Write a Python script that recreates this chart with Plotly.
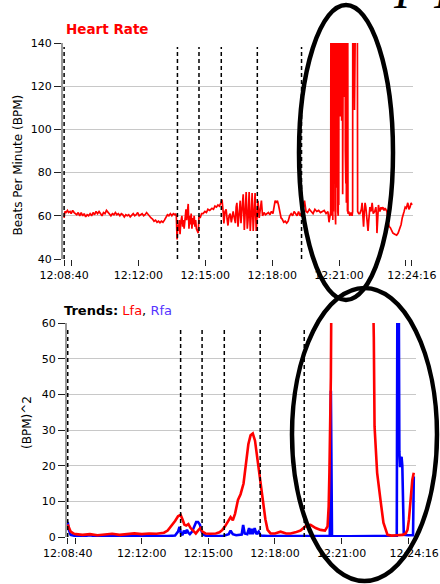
import pandas as pd
import plotly.graph_objects as go

BASE = "2024-01-01 "
START = "12:08:40"
END = "12:24:16"

# Heart rate: (seconds after 12:08:40, beats per minute)
HR_POINTS = [
    (0, 59), (2, 62), (5, 61.5), (9, 62.5), (12, 61.5), (16, 62), (19, 61), (23, 62.5), (27, 61.5), (30, 61),
    (34, 60.5), (38, 61.5), (42, 60), (46, 61.5), (50, 60), (54, 61), (58, 59.5), (62, 60.5), (66, 60), (70, 61),
    (74, 60), (78, 61.5), (82, 60.5), (86, 62), (90, 61), (94, 62), (98, 61), (102, 60), (106, 61.5), (110, 61),
    (114, 62.5), (118, 61.5), (122, 61), (126, 60), (130, 61), (134, 60.5), (138, 61.5), (142, 60.5), (146, 61),
    (150, 60), (154, 61), (158, 60.5), (162, 59.5), (166, 60.5), (170, 60), (174, 60.5), (178, 59.5), (182, 60.5),
    (186, 61), (190, 60), (194, 60.5), (198, 61.5), (202, 60), (206, 60.5), (210, 61), (214, 60), (218, 60.5),
    (222, 61.5), (226, 60.5), (230, 59.5), (234, 59), (238, 58.5), (242, 57.5), (246, 58), (250, 57), (254, 57.5),
    (258, 56.8), (262, 57.5), (266, 57), (270, 58), (274, 59), (278, 60.5), (282, 60), (286, 61), (290, 60),
    (294, 61), (298, 60.5), (300, 61),
    (302, 60), (304, 49), (306, 56), (308, 53), (310, 58), (312, 51.5), (314, 57), (317, 60), (319, 55), (321, 58),
    (323, 54), (325, 60), (328, 63), (330, 58), (332, 62), (334, 65.5), (336, 54), (338, 60), (340, 56), (342, 61),
    (344, 54), (346, 59), (348, 56), (350, 60), (352, 55), (354, 58), (356, 54), (358, 53), (361, 52), (363, 60),
    (366, 59), (370, 61),
    (374, 61), (379, 62), (383, 61.5), (387, 63), (392, 62.5), (398, 63.5), (402, 63), (406, 64.5), (410, 64),
    (414, 65), (418, 64.5), (422, 66), (425, 67.5), (428, 62), (430, 56.5), (433, 62), (436, 63), (439, 58),
    (441, 55.5), (444, 60), (447, 61), (450, 57), (452, 59), (455, 62), (457, 60), (461, 56.6), (463, 64),
    (465, 66), (468, 55), (471, 60), (474, 67), (476, 56.6), (479, 63), (482, 70), (485, 53.4), (487, 60),
    (490, 71), (493, 54), (495, 58), (498, 71), (501, 53), (504, 62), (506, 70.5), (509, 53), (512, 64),
    (514, 70.5), (517, 53), (519, 60), (522, 67), (525, 59), (528, 63), (531, 67), (534, 60), (538, 61.5),
    (542, 60.5), (546, 61), (550, 61.5), (554, 60.5), (558, 62), (562, 61), (565, 64), (568, 67), (571, 66),
    (574, 67), (577, 65), (581, 62), (584, 59), (587, 58.5), (591, 57), (595, 57.5), (599, 56.6), (603, 57.5),
    (607, 60), (611, 61), (615, 60), (619, 62), (623, 61), (627, 60), (631, 62), (635, 60), (639, 61.5),
    (643, 63), (647, 67), (651, 62), (655, 61.5), (660, 63), (665, 62), (670, 61), (675, 63), (680, 62),
    (685, 62.5), (690, 61.5), (695, 62), (700, 62.5), (705, 61), (710, 62), (713, 57), (716, 61),
    (717.5, 62), (718.2, 180), (719, 62), (719.7, 180), (720.4, 60), (721.1, 180), (721.8, 64), (722.5, 180),
    (723.2, 58), (723.9, 180), (724.6, 62), (725.3, 180), (727, 80), (728.7, 180), (729.4, 63), (730.1, 180),
    (730.8, 56), (731.5, 180), (733.6, 73), (735.7, 180), (736.4, 62), (737.1, 180), (737.8, 60), (738.5, 180),
    (739.2, 65), (739.9, 180), (742.5, 106), (745, 180), (747, 104), (749, 180), (749.7, 70), (750.4, 180),
    (751.1, 85), (751.8, 180), (754, 115), (756.2, 180), (756.9, 90), (757.6, 180), (758.3, 75), (759, 180),
    (759.7, 66), (760.4, 180), (761.1, 80), (761.8, 180), (762.5, 62), (763.2, 180), (764, 61), (766, 62),
    (769, 60), (772, 61.5), (775, 60), (776.5, 62), (777, 180), (780, 180), (781.5, 109), (783.5, 180),
    (784.5, 150), (785.5, 180), (786.5, 140), (787.5, 180), (789, 180), (790, 62),
    (793, 61), (796, 61), (800, 63), (802, 66), (804, 60), (806, 55), (808, 62), (810, 66), (812, 64), (815, 59),
    (818, 53), (820, 58), (823, 64), (826, 62), (829, 66), (832, 61), (836, 62), (839, 64), (841, 60), (842, 52),
    (844, 58), (846, 65), (848, 63), (850, 62), (853, 64), (855, 63), (858, 64), (861, 62.5), (864, 63.5),
    (867, 62), (869, 62), (872, 57), (875, 55), (878, 54.5), (882, 53), (885, 52), (890, 51.5), (895, 51),
    (899, 52), (903, 54), (907, 56), (910, 59), (912, 61), (915, 62), (918, 64), (921, 63.5), (925, 66),
    (928, 63), (931, 64), (934, 66), (936, 65),
]

# Trends: (seconds after 12:08:40, (BPM)^2)
LFA_POINTS = [
    (0, 3.5), (3, 2.5), (8, 1.5), (15, 1), (22, 0.8), (40, 0.6), (60, 0.8), (80, 0.5), (100, 0.7), (120, 0.9),
    (140, 0.6), (160, 0.8), (180, 1), (200, 0.8), (220, 1), (240, 0.9), (260, 1.2), (270, 1.8), (280, 3),
    (290, 4.5), (298, 5.8), (305, 6.2), (310, 5), (315, 3.5), (320, 3.2), (326, 3.6), (332, 2.5), (340, 1.5),
    (346, 1), (352, 1.8), (358, 2.5), (364, 1.5), (372, 1), (385, 0.9), (400, 1), (410, 1.3), (418, 2),
    (425, 3), (432, 4.2), (440, 5.6), (446, 4.7), (452, 6.5), (460, 10.4), (467, 12), (475, 15), (481, 20),
    (488, 26), (494, 28.5), (500, 29), (506, 27), (512, 22), (518, 17), (524, 12), (529, 8.5), (534, 5),
    (540, 2), (548, 1), (560, 1), (575, 1.5), (590, 1), (602, 1), (615, 1.3), (629, 1.8), (637, 2.5),
    (645, 3.3), (656, 3.4), (670, 2.5), (683, 2), (695, 1.8), (702, 3), (705, 8.5), (707, 18), (709, 27),
    (711, 45), (713, 80), (760, 80), (826, 62), (827, 56), (829, 31), (831, 27), (836, 18), (845, 10.4),
    (853, 4), (864, 0.6), (875, 0.4), (890, 0.5), (905, 0.6), (913, 1), (918, 2), (922, 5), (926, 11),
    (931, 16), (935, 18),
]
RFA_POINTS = [
    (0, 4.2), (3, 2), (8, 0.6), (20, 0.3), (40, 0.2), (60, 0.5), (70, 0.3), (90, 0.2), (110, 0.4), (130, 0.2),
    (150, 0.3), (170, 0.2), (190, 0.4), (210, 0.2), (230, 0.3), (250, 0.2), (270, 0.3), (290, 0.4), (298, 1.5),
    (302, 2.8), (306, 1), (310, 0.5), (314, 1.8), (318, 1), (322, 2), (326, 1.2), (330, 0.8), (336, 1.5),
    (342, 3), (347, 4.2), (352, 4.2), (357, 3.5), (362, 1.5), (368, 0.6), (375, 0.3), (400, 0.2), (420, 0.3),
    (435, 0.8), (440, 1.8), (446, 0.8), (455, 0.5), (470, 0.7), (474, 3.4), (478, 1), (485, 0.8), (490, 2.5),
    (493, 0.8), (497, 2.3), (500, 0.8), (505, 2.5), (510, 0.8), (516, 1.5), (521, 0.4), (540, 0.3), (600, 0.2),
    (660, 0.3), (708, 0.3), (711, 41), (714, 0.3), (760, 0.2), (830, 0.3), (889, 0.3), (891, 80), (894, 80),
    (896, 24), (898, 19.6), (900, 22), (902, 22.5), (904, 20), (906, 2), (908, 0.6), (920, 0.5), (933, 0.5),
    (935, 17),
]

MARKERS = ["12:08:40", "12:13:45", "12:14:43", "12:15:43", "12:17:20", "12:19:19"]
TICK_TIMES = ["12:08:40", "12:09:00", "12:12:00", "12:15:00", "12:18:00", "12:21:00", "12:24:00", "12:24:16"]
TICK_TEXT = ["12:08:40", "", "12:12:00", "12:15:00", "12:18:00", "12:21:00", "", "12:24:16"]
HR_TICKS = [40, 60, 80, 100, 120, 140]
TR_TICKS = [0, 10, 20, 30, 40, 50, 60]

W, H = 440, 584
base = pd.Timestamp(BASE + START)


def to_time(points):
    return [base + pd.to_timedelta(p[0], unit="s") for p in points]


def px(xp):
    return xp / W


def py(yp):
    return (H - yp) / H


fig = go.Figure()
fig.add_trace(go.Scatter(x=to_time(HR_POINTS), y=[p[1] for p in HR_POINTS], mode="lines",
                         line=dict(color="#ff0000", width=1.7), xaxis="x", yaxis="y", showlegend=False))
fig.add_trace(go.Scatter(x=to_time(RFA_POINTS), y=[p[1] for p in RFA_POINTS], mode="lines",
                         line=dict(color="#0000ff", width=2.6), xaxis="x2", yaxis="y2", showlegend=False))
fig.add_trace(go.Scatter(x=to_time(LFA_POINTS), y=[p[1] for p in LFA_POINTS], mode="lines",
                         line=dict(color="#ff0000", width=2.6), xaxis="x2", yaxis="y2", showlegend=False))

tickvals = [BASE + t for t in TICK_TIMES]
font_tick = dict(family="DejaVu Sans", size=11, color="#000")

xcommon = dict(type="date", tickvals=tickvals, ticktext=TICK_TEXT, ticks="outside", ticklen=6,
               tickcolor="#222", tickwidth=1, showgrid=False, showline=False, zeroline=False,
               tickfont=font_tick, automargin=False)
ycommon = dict(ticks="outside", ticklen=7, tickcolor="#222", tickwidth=1, showgrid=True,
               gridcolor="#c8c8c8", gridwidth=1, showline=True, linecolor="#9a9a9a", linewidth=2,
               zeroline=False, tickfont=font_tick, automargin=False)

end_ts = pd.Timestamp(BASE + END)
fig.update_layout(
    width=W, height=H, margin=dict(l=0, r=0, t=0, b=0),
    paper_bgcolor="white", plot_bgcolor="white",
    xaxis=dict(domain=[px(63), px(413)], anchor="y",
               range=[base - pd.Timedelta(seconds=3), end_ts + pd.Timedelta(seconds=3)], **xcommon),
    yaxis=dict(domain=[py(259), py(43)], anchor="x", range=[40, 140], tickvals=HR_TICKS, **ycommon),
    xaxis2=dict(domain=[px(67), px(416)], anchor="y2",
                range=[base - pd.Timedelta(seconds=2), end_ts + pd.Timedelta(seconds=5)], **xcommon),
    yaxis2=dict(domain=[py(537), py(323)], anchor="x2", range=[0, 60], tickvals=TR_TICKS, **ycommon),
)

shapes = []
for m in MARKERS:
    t = BASE + m
    shapes.append(dict(type="line", xref="x", yref="paper", x0=t, x1=t, y0=py(259), y1=py(47),
                       line=dict(color="#000", width=1.5, dash="4px,3px")))
    shapes.append(dict(type="line", xref="x2", yref="paper", x0=t, x1=t, y0=py(537), y1=py(327),
                       line=dict(color="#000", width=1.5, dash="4px,3px")))
# hand-drawn emphasis ellipses
shapes.append(dict(type="circle", xref="paper", yref="paper", x0=px(299), x1=px(393), y0=py(300), y1=py(5),
                   line=dict(color="#000", width=4.5)))
shapes.append(dict(type="circle", xref="paper", yref="paper", x0=px(292), x1=px(437), y0=py(581), y1=py(288),
                   line=dict(color="#000", width=4.5)))
fig.update_layout(shapes=shapes)

annotations = [
    dict(text="<b>Heart Rate</b>", x=px(64), y=py(29), xref="paper", yref="paper", xanchor="left",
         yanchor="middle", showarrow=False, font=dict(family="DejaVu Sans", size=13.5, color="#ff0000")),
    dict(text="<b>Trends:</b> <span style='color:#ff0000'>Lfa</span>, <span style='color:#5533ff'>Rfa</span>",
         x=px(62), y=py(310), xref="paper", yref="paper", xanchor="left", yanchor="middle", showarrow=False,
         font=dict(family="DejaVu Sans", size=13, color="#000")),
    dict(text="Beats Per Minute (BPM)", x=px(17.5), y=py(165), xref="paper", yref="paper", textangle=-90,
         xanchor="center", yanchor="middle", showarrow=False, font=dict(family="DejaVu Sans", size=12, color="#000")),
    dict(text="(BPM)^2", x=px(27), y=py(423), xref="paper", yref="paper", textangle=-90,
         xanchor="center", yanchor="middle", showarrow=False, font=dict(family="DejaVu Sans", size=12, color="#000")),
    dict(text="<i>I</i>", x=px(402), y=py(-9), xref="paper", yref="paper", xanchor="center", yanchor="middle",
         showarrow=False, font=dict(family="Liberation Serif", size=48, color="#000")),
    dict(text="<i>I</i>", x=px(442), y=py(-9), xref="paper", yref="paper", xanchor="center", yanchor="middle",
         showarrow=False, font=dict(family="Liberation Serif", size=48, color="#000")),
]
fig.update_layout(annotations=annotations)

fig.write_html("out.html", config={"displayModeBar": False},
               post_script="document.body.style.margin='0px';document.body.style.overflow='hidden';")
